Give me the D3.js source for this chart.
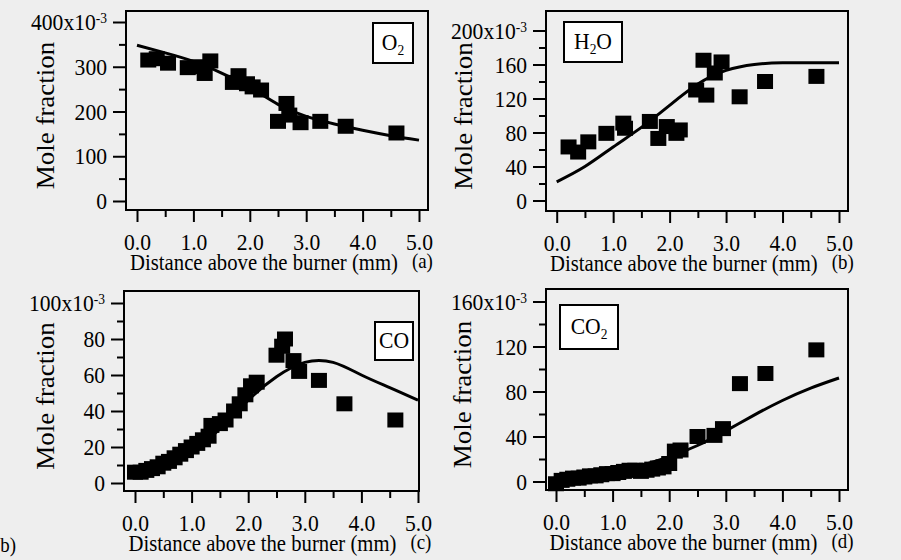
<!DOCTYPE html>
<html>
<head>
<meta charset="utf-8">
<script src="https://cdn.jsdelivr.net/npm/d3@7"></script>
<style>
  html, body { margin: 0; padding: 0; background: #eeeeee; }
  svg { display: block; }
  text { font-family: "Liberation Serif", "Times New Roman", serif; fill: #000; }
</style>
</head>
<body>
<div id="chart"></div>
<script>
const width = 901;
const height = 560;
const squeeze = 0.9; // the original figure is a bit narrower than tall

// model curve, common x grid (mm)
const curveX = [0, 0.5, 1.0, 1.5, 2.0, 2.5, 3.0, 3.5, 4.0, 4.5, 5.0];

// O2 (x10^-3)
const o2X = [0.2, 0.35, 0.55, 0.9, 1.1, 1.2, 1.3, 1.7, 1.8, 1.95, 2.05, 2.2, 2.5, 2.65, 2.7, 2.9, 3.25, 3.7, 4.6];
const o2Y = [315, 318, 308, 298, 300, 285, 313, 265, 280, 262, 255, 248, 178, 218, 192, 175, 178, 167, 152];
const o2Curve = [348, 331, 312, 286, 254, 216, 189, 172, 158, 146, 136];

// H2O
const h2oX = [0.21, 0.38, 0.56, 0.88, 1.18, 1.21, 1.65, 1.8, 1.95, 2.12, 2.18, 2.47, 2.6, 2.65, 2.8, 2.92, 3.24, 3.69, 4.6];
const h2oY = [63, 57, 69, 79, 91, 85, 93, 73, 87, 79, 83, 130, 165, 124, 150, 163, 122, 140, 146];
const h2oCurve = [22, 40, 63, 86, 112, 137, 153, 160, 162, 162, 162];

// CO
const coX = [0.0, 0.1, 0.2, 0.3, 0.4, 0.5, 0.6, 0.7, 0.8, 0.9, 1.0, 1.1, 1.2, 1.3, 1.35, 1.5, 1.6, 1.75, 1.85, 1.95, 2.05, 2.15, 2.5, 2.6, 2.65, 2.8, 2.9, 3.25, 3.7, 4.6];
const coY = [6, 6, 7, 8, 9, 11, 12, 14, 16, 18, 20, 22, 24, 26, 32, 33, 35, 40, 44, 49, 54, 56, 71, 76, 80, 68, 62, 57, 44, 35];
const coCurve = [4, 8, 17, 30, 46, 59, 67, 67, 60, 53, 46];

// CO2
const co2X = [0.0, 0.1, 0.2, 0.3, 0.4, 0.5, 0.6, 0.7, 0.8, 0.9, 1.0, 1.1, 1.2, 1.3, 1.4, 1.5, 1.6, 1.7, 1.8, 1.9, 2.0, 2.1, 2.2, 2.5, 2.8, 2.95, 3.25, 3.7, 4.6];
const co2Y = [-2, 1, 2, 3, 3, 4, 5, 5, 6, 7, 7, 8, 9, 10, 10, 9, 10, 11, 12, 13, 16, 27, 28, 40, 41, 47, 87, 96, 117];
const co2Curve = [0, 3, 7, 14, 22, 32, 45, 59, 72, 83, 92];

const xTicks = [0, 1, 2, 3, 4, 5];
const xMinor = [0.5, 1.5, 2.5, 3.5, 4.5];

const panels = [
  { tag: "(a)", species: ["O", "2", ""], xs: o2X, ys: o2Y, curve: o2Curve,
    frame: [126, 11, 428, 210], xr: [137, 419], yr: [201, 22], yd: [0, 400], step: 100,
    box: [373, 23, 40, 40], ylab: 54 },
  { tag: "(b)", species: ["H", "2", "O"], xs: h2oX, ys: h2oY, curve: h2oCurve,
    frame: [546, 11, 848, 211], xr: [556.7, 839], yr: [200.5, 30.5], yd: [0, 200], step: 40,
    box: [564, 22, 58, 40], ylab: 472 },
  { tag: "(c)", species: ["CO", "", ""], xs: coX, ys: coY, curve: coCurve,
    frame: [124, 291, 419, 491], xr: [135, 418], yr: [483, 303], yd: [0, 100], step: 20,
    box: [375, 322, 38, 38], ylab: 54 },
  { tag: "(d)", species: ["CO", "2", ""], xs: co2X, ys: co2Y, curve: co2Curve,
    frame: [546, 289, 848, 490], xr: [556, 839], yr: [481.5, 301.5], yd: [0, 160], step: 40,
    box: [560, 305, 58, 44], ylab: 471 }
];

const svg = d3.select("#chart").append("svg")
  .attr("width", width)
  .attr("height", height);

svg.append("rect")
  .attr("width", width)
  .attr("height", height)
  .attr("fill", "#eeeeee");

panels.forEach(p => {
  const [fx0, fy0, fx1, fy1] = p.frame;
  const x = d3.scaleLinear().domain([0, 5]).range(p.xr);
  const y = d3.scaleLinear().domain(p.yd).range(p.yr);
  const g = svg.append("g");

  const major = d3.range(p.yd[0], p.yd[1] + 1, p.step);
  const minor = d3.range(p.yd[0] + p.step / 2, p.yd[1], p.step);

  // y axis
  const yAxis = g.append("g")
    .attr("transform", `translate(${fx0},0)`)
    .call(d3.axisLeft(y).tickValues(major).tickSize(13).tickPadding(6).tickFormat(d3.format("d")));
  yAxis.select(".domain").remove();
  yAxis.selectAll("line").attr("stroke-width", 2);
  yAxis.selectAll("text")
    .style("font-size", "24px")
    .attr("x", -19 / squeeze)
    .attr("transform", `scale(${squeeze},1)`)
    .each(function(d) {
      if (d === p.yd[1]) {
        const t = d3.select(this).text(d + "x10");
        t.append("tspan").attr("dy", "-0.45em").style("font-size", "15px").text("-3");
      }
    });
  g.append("g")
    .attr("transform", `translate(${fx0},0)`)
    .call(d3.axisLeft(y).tickValues(minor).tickSize(7).tickFormat(""))
    .call(a => a.select(".domain").remove())
    .selectAll("line").attr("stroke-width", 2);

  // x axis
  const xAxis = g.append("g")
    .attr("transform", `translate(0,${fy1})`)
    .call(d3.axisBottom(x).tickValues(xTicks).tickSize(12).tickFormat(d3.format(".1f")));
  xAxis.select(".domain").remove();
  xAxis.selectAll("line").attr("stroke-width", 2);
  xAxis.selectAll("text")
    .style("font-size", "24px")
    .attr("y", 40)
    .attr("dy", 0)
    .attr("transform", `scale(${squeeze},1)`);
  g.append("g")
    .attr("transform", `translate(0,${fy1})`)
    .call(d3.axisBottom(x).tickValues(xMinor).tickSize(7).tickFormat(""))
    .call(a => a.select(".domain").remove())
    .selectAll("line").attr("stroke-width", 2);

  // frame
  g.append("rect")
    .attr("x", fx0).attr("y", fy0)
    .attr("width", fx1 - fx0).attr("height", fy1 - fy0)
    .attr("fill", "none")
    .attr("stroke", "#000")
    .attr("stroke-width", 2);

  // model curve
  const line = d3.line()
    .x((d, i) => x(curveX[i]))
    .y(d => y(d))
    .curve(d3.curveNatural);
  g.append("path")
    .datum(p.curve)
    .attr("d", line)
    .attr("fill", "none")
    .attr("stroke", "#000")
    .attr("stroke-width", 3);

  // measured points
  g.append("g")
    .selectAll("rect")
    .data(p.xs.map((d, i) => [d, p.ys[i]]))
    .join("rect")
    .attr("x", d => x(d[0]) - 8)
    .attr("y", d => y(d[1]) - 7.5)
    .attr("width", 16)
    .attr("height", 15)
    .attr("fill", "#000");

  // species box
  const [bx, by, bw, bh] = p.box;
  g.append("rect")
    .attr("x", bx).attr("y", by)
    .attr("width", bw).attr("height", bh)
    .attr("fill", "#fff")
    .attr("stroke", "#000")
    .attr("stroke-width", 2);
  const st = g.append("text")
    .attr("transform", `translate(${bx + bw / 2},${by + bh / 2 + 7}) scale(${squeeze},1)`)
    .attr("text-anchor", "middle")
    .style("font-size", "24px")
    .text(p.species[0]);
  if (p.species[1]) {
    st.append("tspan").attr("dy", 5).style("font-size", "15px").text(p.species[1]);
    if (p.species[2]) st.append("tspan").attr("dy", -5).style("font-size", "24px").text(p.species[2]);
  }

  // titles
  const cx = (p.xr[0] + p.xr[1]) / 2 - 14;
  const title = g.append("text")
    .attr("transform", `translate(${cx},${fy1 + 60}) scale(${squeeze},1)`)
    .attr("text-anchor", "middle")
    .style("font-size", "23px")
    .text("Distance above the burner (mm)");
  const tw = title.node().getComputedTextLength() * squeeze;
  g.append("text")
    .attr("transform", `translate(${cx + tw / 2 + 14},${fy1 + 58}) scale(${squeeze},1)`)
    .style("font-size", "21px")
    .text(p.tag);

  g.append("text")
    .attr("transform", `translate(${p.ylab},${(fy0 + fy1) / 2 + 5}) rotate(-90) scale(1,${squeeze})`)
    .attr("text-anchor", "middle")
    .style("font-size", "27px")
    .text("Mole fraction");
});

// cut-off label at the lower left edge
svg.append("text")
  .attr("transform", `translate(-6,552) scale(${squeeze},1)`)
  .style("font-size", "21px")
  .text("(b)");
</script>
</body>
</html>
